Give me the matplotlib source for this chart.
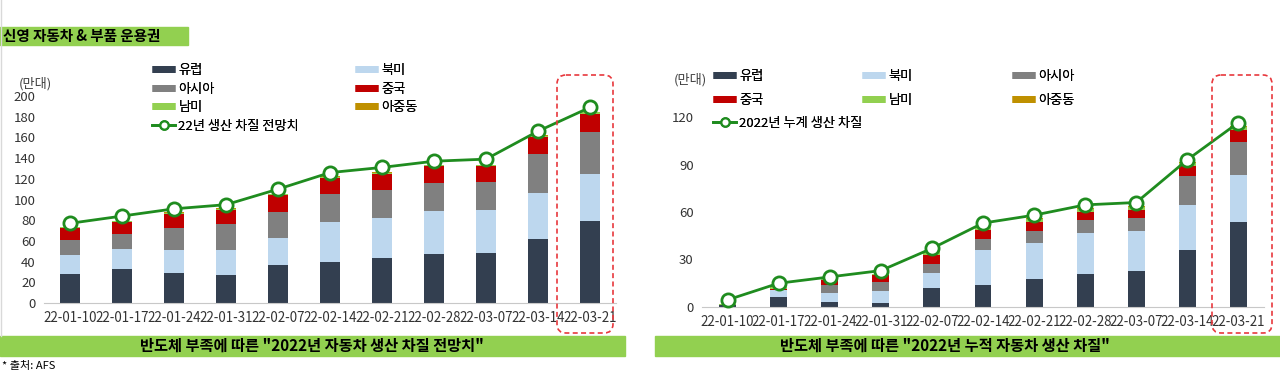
import matplotlib
matplotlib.use('Agg')
import matplotlib.pyplot as plt
import numpy as np
from matplotlib.lines import Line2D
from matplotlib.patches import FancyBboxPatch, Rectangle

plt.rcParams['font.family'] = ['Noto Sans CJK KR', 'DejaVu Sans']

# ---------------- data ----------------
dates = ['22-01-10', '22-01-17', '22-01-24', '22-01-31', '22-02-07', '22-02-14',
         '22-02-21', '22-02-28', '22-03-07', '22-03-14', '22-03-21']
regions = ['유럽', '북미', '아시아', '중국', '남미', '아중동']

# left: 2022 forecast of production loss (만대)
fc_europe = [28, 33, 29, 27, 37, 40, 43, 47, 48, 62, 79]
fc_namerica = [18, 19, 22, 24, 26, 38, 39, 42, 42, 44, 46]
fc_asia = [15, 15, 21, 25, 25, 27, 27, 27, 27, 38, 40]
fc_china = [11, 11, 14, 14, 16, 16, 16, 16, 15, 16, 18]
fc_samerica = [1, 1, 1, 1, 1, 1, 1, 1, 1, 1.5, 1.5]
fc_mea = [0.5, 0.5, 0.5, 0.5, 0.5, 0.5, 0.5, 0.5, 0.5, 0.5, 0.5]
fc_total = [77, 84, 91, 95, 110, 126, 131, 137, 139, 166, 189]

# right: 2022 cumulative production loss (만대)
cu_europe = [1.5, 6.5, 3, 2.5, 12, 14, 18, 21, 22.5, 36, 54]
cu_namerica = [0, 4, 6, 7.5, 9.5, 22, 22.5, 26, 25.5, 28.5, 29.5]
cu_asia = [0, 0.5, 5, 6, 5.5, 7, 7.5, 8, 8, 18.5, 20.5]
cu_china = [0, 0.5, 3, 4, 6, 5.5, 5.5, 5, 5, 6, 8]
cu_samerica = [0.5, 2, 1, 1, 2, 2, 2, 2, 2, 2, 2]
cu_mea = [0, 0, 0, 0, 0.5, 0.5, 0.5, 0.5, 0.5, 0.5, 0.5]
cu_total = [4.5, 15, 19, 23, 37, 53, 58, 64.5, 66, 93, 116.5]

colors = ['#333F50', '#BDD7EE', '#808080', '#C00000', '#92D050', '#BF9000']
LINE_GREEN = '#1F8C1F'
BAND_GREEN = '#92D050'
W, H = 1280, 375


def fx(x):
    return x / W


def fy(y):
    return 1 - y / H


def stacked(ax, series, total, width, ymax, yticks):
    x = np.arange(len(dates))
    bottom = np.zeros(len(dates))
    for vals, c in zip(series, colors):
        ax.bar(x, vals, width, bottom=bottom, color=c, zorder=2)
        bottom += np.array(vals)
    ax.plot(x, total, color=LINE_GREEN, lw=2, marker='o', ms=9.5,
            mfc='white', mec=LINE_GREEN, mew=2, zorder=4, clip_on=False)
    ax.set_xlim(-0.5, len(dates) - 0.5)
    ax.set_ylim(0, ymax)
    ax.set_yticks(yticks)
    ax.set_xticks(x)
    ax.set_xticklabels(dates)
    ax.tick_params(length=0, labelsize=9.5, colors='#333333', pad=6)
    ax.tick_params(axis='x', labelsize=9.6)
    for s in ['top', 'right', 'left']:
        ax.spines[s].set_visible(False)
    ax.spines['bottom'].set_color('#C8C8C8')
    ax.patch.set_alpha(0)


def make_handles(labels):
    hs = []
    for lab in labels:
        if lab in regions:
            hs.append(Line2D([], [], color=colors[regions.index(lab)], lw=5,
                             solid_capstyle='butt', label=lab))
        else:
            hs.append(Line2D([], [], color=LINE_GREEN, lw=2, marker='o', ms=6,
                             mfc='white', mec=LINE_GREEN, mew=1.6, label=lab))
    return hs


def column_legend(labels, x, y, spacing):
    leg = fig.legend(handles=make_handles(labels), loc='upper left',
                     bbox_to_anchor=(fx(x), fy(y)), frameon=False, fontsize=9.5,
                     borderpad=0, borderaxespad=0, handlelength=1.75,
                     handletextpad=0.25, labelspacing=spacing)
    fig.add_artist(leg)


fig = plt.figure(figsize=(12.8, 3.75), dpi=100)

ax1 = fig.add_axes([fx(44), fy(303), fx(616 - 44), (303 - 96) / H])
stacked(ax1, [fc_europe, fc_namerica, fc_asia, fc_china, fc_samerica, fc_mea],
        fc_total, 0.38, 200, range(0, 201, 20))

ax2 = fig.add_axes([fx(702), fy(307), fx(1264 - 702), (307 - 117) / H])
stacked(ax2, [cu_europe, cu_namerica, cu_asia, cu_china, cu_samerica, cu_mea],
        cu_total, 0.33, 120, range(0, 121, 30))

# legends
column_legend(['유럽', '아시아', '남미', '22년 생산 차질 전망치'], 152, 64, 0.42)
column_legend(['북미', '중국', '아중동'], 355, 64, 0.42)
column_legend(['유럽', '중국', '2022년 누계 생산 차질'], 713, 70, 0.8)
column_legend(['북미', '남미'], 862, 70, 0.8)
column_legend(['아시아', '아중동'], 1012, 70, 0.8)

# decorations in pixel coordinates
deco = fig.add_axes([0, 0, 1, 1], zorder=5)
deco.set_xlim(0, W)
deco.set_ylim(H, 0)
deco.axis('off')
deco.patch.set_alpha(0)

deco.plot([0.5, 0.5], [0, 336], color='#D9D9D9', lw=1)
deco.add_patch(Rectangle((0, 27), 188, 18, color=BAND_GREEN))
deco.text(3, 36, '신영 자동차 & 부품 운용권', fontsize=10.5, fontweight='bold',
          va='center', ha='left')

deco.text(35, 84, '(만대)', fontsize=9.5, color='#404040', ha='center', va='center')
deco.text(690, 80, '(만대)', fontsize=9.5, color='#404040', ha='center', va='center')

for x0, w in [(557, 56), (1212, 60)]:
    deco.add_patch(FancyBboxPatch((x0, 75), w, 258,
                                  boxstyle='round,pad=0,rounding_size=9',
                                  fill=False, edgecolor='#E8383D', lw=1.2,
                                  linestyle=(0, (3, 2))))

deco.add_patch(Rectangle((0, 336), 625, 20, color=BAND_GREEN))
deco.text(312, 346, '반도체 부족에 따른 "2022년 자동차 생산 차질 전망치"',
          fontsize=11, fontweight='bold', ha='center', va='center')
deco.add_patch(Rectangle((655, 336), 625, 20, color=BAND_GREEN))
deco.text(945, 346, '반도체 부족에 따른 "2022년 누적 자동차 생산 차질"',
          fontsize=11, fontweight='bold', ha='center', va='center')
deco.text(2, 366, '* 출처: AFS', fontsize=8, ha='left', va='center')

fig.savefig('out.png', dpi=100)
